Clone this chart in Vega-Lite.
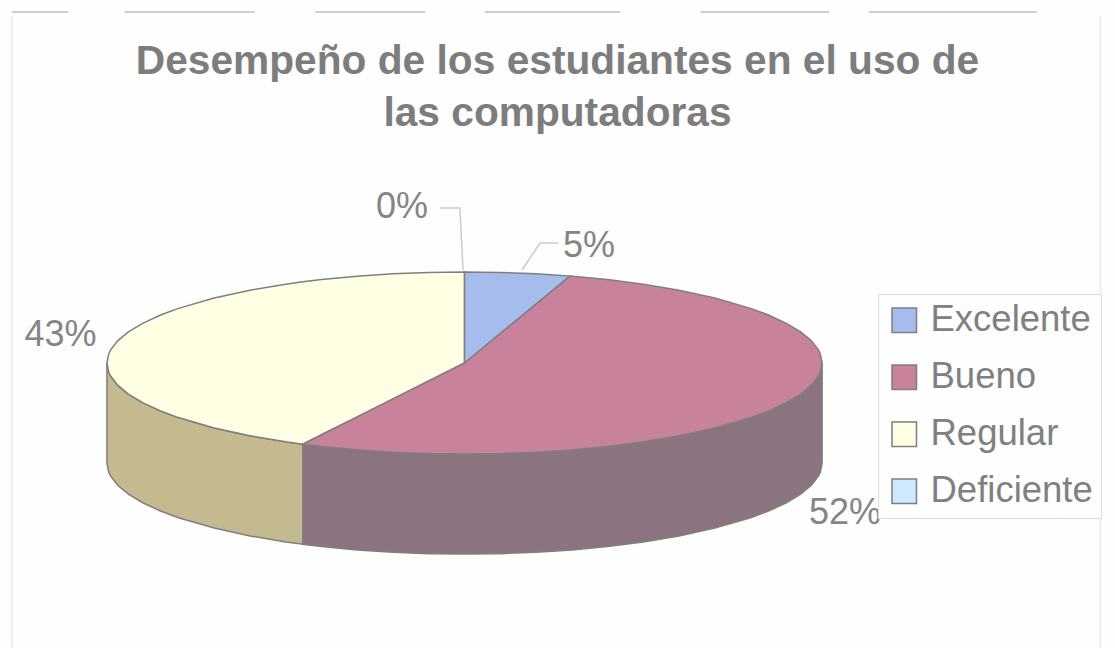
{
  "$schema": "https://vega.github.io/schema/vega-lite/v6.json",
  "autosize": {"type": "none"},
  "padding": 0,
  "width": 1115,
  "height": 648,
  "background": "#fefefe",
  "title": {
    "text": ["Desempeño de los estudiantes en el uso de", "las computadoras"],
    "frame": "group",
    "anchor": "middle",
    "orient": "top",
    "baseline": "top",
    "offset": 0,
    "dy": 135,
    "font": "Liberation Sans",
    "fontSize": 40.7,
    "fontWeight": "bold",
    "color": "#7d7d7d",
    "lineHeight": 52
  },
  "datasets": {
    "caras": [
      {"categoria": "Regular", "cara": "superior", "u": -100, "v1": 0, "v2": 0},
      {"categoria": "Regular", "cara": "superior", "u": -99.5, "v1": 10, "v2": -10},
      {"categoria": "Regular", "cara": "superior", "u": -99, "v1": 14.1, "v2": -14.1},
      {"categoria": "Regular", "cara": "superior", "u": -97, "v1": 24.3, "v2": -24.3},
      {"categoria": "Regular", "cara": "superior", "u": -94, "v1": 34.1, "v2": -34.1},
      {"categoria": "Regular", "cara": "superior", "u": -90, "v1": 43.6, "v2": -43.6},
      {"categoria": "Regular", "cara": "superior", "u": -85, "v1": 52.7, "v2": -52.7},
      {"categoria": "Regular", "cara": "superior", "u": -80, "v1": 60, "v2": -60},
      {"categoria": "Regular", "cara": "superior", "u": -70, "v1": 71.4, "v2": -71.4},
      {"categoria": "Regular", "cara": "superior", "u": -60, "v1": 80, "v2": -80},
      {"categoria": "Regular", "cara": "superior", "u": -50, "v1": 86.6, "v2": -86.6},
      {"categoria": "Regular", "cara": "superior", "u": -45.2, "v1": 89.2, "v2": -89.2},
      {"categoria": "Regular", "cara": "superior", "u": -40, "v1": 91.7, "v2": -78.9},
      {"categoria": "Regular", "cara": "superior", "u": -30, "v1": 95.4, "v2": -59.2},
      {"categoria": "Regular", "cara": "superior", "u": -20, "v1": 98, "v2": -39.5},
      {"categoria": "Regular", "cara": "superior", "u": -10, "v1": 99.5, "v2": -19.7},
      {"categoria": "Regular", "cara": "superior", "u": 0, "v1": 100, "v2": 0},

      {"categoria": "Excelente", "cara": "superior", "u": 0, "v1": 100, "v2": 0},
      {"categoria": "Excelente", "cara": "superior", "u": 10, "v1": 99.5, "v2": 32.4},
      {"categoria": "Excelente", "cara": "superior", "u": 20, "v1": 98, "v2": 64.7},
      {"categoria": "Excelente", "cara": "superior", "u": 29.5, "v1": 95.5, "v2": 95.5},

      {"categoria": "Bueno", "cara": "superior", "u": -45.2, "v1": -89.2, "v2": -89.2},
      {"categoria": "Bueno", "cara": "superior", "u": -40, "v1": -78.9, "v2": -91.7},
      {"categoria": "Bueno", "cara": "superior", "u": -30, "v1": -59.2, "v2": -95.4},
      {"categoria": "Bueno", "cara": "superior", "u": -20, "v1": -39.5, "v2": -98},
      {"categoria": "Bueno", "cara": "superior", "u": -10, "v1": -19.7, "v2": -99.5},
      {"categoria": "Bueno", "cara": "superior", "u": 0, "v1": 0, "v2": -100},
      {"categoria": "Bueno", "cara": "superior", "u": 10, "v1": 32.4, "v2": -99.5},
      {"categoria": "Bueno", "cara": "superior", "u": 20, "v1": 64.7, "v2": -98},
      {"categoria": "Bueno", "cara": "superior", "u": 29.5, "v1": 95.5, "v2": -95.5},
      {"categoria": "Bueno", "cara": "superior", "u": 40, "v1": 91.7, "v2": -91.7},
      {"categoria": "Bueno", "cara": "superior", "u": 50, "v1": 86.6, "v2": -86.6},
      {"categoria": "Bueno", "cara": "superior", "u": 60, "v1": 80, "v2": -80},
      {"categoria": "Bueno", "cara": "superior", "u": 70, "v1": 71.4, "v2": -71.4},
      {"categoria": "Bueno", "cara": "superior", "u": 80, "v1": 60, "v2": -60},
      {"categoria": "Bueno", "cara": "superior", "u": 85, "v1": 52.7, "v2": -52.7},
      {"categoria": "Bueno", "cara": "superior", "u": 90, "v1": 43.6, "v2": -43.6},
      {"categoria": "Bueno", "cara": "superior", "u": 94, "v1": 34.1, "v2": -34.1},
      {"categoria": "Bueno", "cara": "superior", "u": 97, "v1": 24.3, "v2": -24.3},
      {"categoria": "Bueno", "cara": "superior", "u": 99, "v1": 14.1, "v2": -14.1},
      {"categoria": "Bueno", "cara": "superior", "u": 99.5, "v1": 10, "v2": -10},
      {"categoria": "Bueno", "cara": "superior", "u": 100, "v1": 0, "v2": 0},

      {"categoria": "Regular", "cara": "lateral", "u": -100, "v1": 0, "v2": -110},
      {"categoria": "Regular", "cara": "lateral", "u": -99.5, "v1": -10, "v2": -120},
      {"categoria": "Regular", "cara": "lateral", "u": -99, "v1": -14.1, "v2": -124.1},
      {"categoria": "Regular", "cara": "lateral", "u": -97, "v1": -24.3, "v2": -134.3},
      {"categoria": "Regular", "cara": "lateral", "u": -94, "v1": -34.1, "v2": -144.1},
      {"categoria": "Regular", "cara": "lateral", "u": -90, "v1": -43.6, "v2": -153.6},
      {"categoria": "Regular", "cara": "lateral", "u": -85, "v1": -52.7, "v2": -162.7},
      {"categoria": "Regular", "cara": "lateral", "u": -80, "v1": -60, "v2": -170},
      {"categoria": "Regular", "cara": "lateral", "u": -70, "v1": -71.4, "v2": -181.4},
      {"categoria": "Regular", "cara": "lateral", "u": -60, "v1": -80, "v2": -190},
      {"categoria": "Regular", "cara": "lateral", "u": -50, "v1": -86.6, "v2": -196.6},
      {"categoria": "Regular", "cara": "lateral", "u": -45.2, "v1": -89.2, "v2": -199.2},

      {"categoria": "Bueno", "cara": "lateral", "u": -45.2, "v1": -89.2, "v2": -199.2},
      {"categoria": "Bueno", "cara": "lateral", "u": -40, "v1": -91.7, "v2": -201.7},
      {"categoria": "Bueno", "cara": "lateral", "u": -30, "v1": -95.4, "v2": -205.4},
      {"categoria": "Bueno", "cara": "lateral", "u": -20, "v1": -98, "v2": -208},
      {"categoria": "Bueno", "cara": "lateral", "u": -10, "v1": -99.5, "v2": -209.5},
      {"categoria": "Bueno", "cara": "lateral", "u": 0, "v1": -100, "v2": -210},
      {"categoria": "Bueno", "cara": "lateral", "u": 10, "v1": -99.5, "v2": -209.5},
      {"categoria": "Bueno", "cara": "lateral", "u": 20, "v1": -98, "v2": -208},
      {"categoria": "Bueno", "cara": "lateral", "u": 30, "v1": -95.4, "v2": -205.4},
      {"categoria": "Bueno", "cara": "lateral", "u": 40, "v1": -91.7, "v2": -201.7},
      {"categoria": "Bueno", "cara": "lateral", "u": 50, "v1": -86.6, "v2": -196.6},
      {"categoria": "Bueno", "cara": "lateral", "u": 60, "v1": -80, "v2": -190},
      {"categoria": "Bueno", "cara": "lateral", "u": 70, "v1": -71.4, "v2": -181.4},
      {"categoria": "Bueno", "cara": "lateral", "u": 80, "v1": -60, "v2": -170},
      {"categoria": "Bueno", "cara": "lateral", "u": 85, "v1": -52.7, "v2": -162.7},
      {"categoria": "Bueno", "cara": "lateral", "u": 90, "v1": -43.6, "v2": -153.6},
      {"categoria": "Bueno", "cara": "lateral", "u": 94, "v1": -34.1, "v2": -144.1},
      {"categoria": "Bueno", "cara": "lateral", "u": 97, "v1": -24.3, "v2": -134.3},
      {"categoria": "Bueno", "cara": "lateral", "u": 99, "v1": -14.1, "v2": -124.1},
      {"categoria": "Bueno", "cara": "lateral", "u": 99.5, "v1": -10, "v2": -120},
      {"categoria": "Bueno", "cara": "lateral", "u": 100, "v1": 0, "v2": -110}
    ],
    "porcentajes": [
      {"categoria": "Excelente", "valor": 0.05, "u": 34.8, "v": 128.6},
      {"categoria": "Bueno", "valor": 0.52, "u": 106.4, "v": -165},
      {"categoria": "Regular", "valor": 0.43, "u": -113, "v": 30.8},
      {"categoria": "Deficiente", "valor": 0, "u": -17.5, "v": 171.4}
    ],
    "guias": [
      {"guia": "Deficiente", "u": -6.9, "v": 170.3},
      {"guia": "Deficiente", "u": -1.3, "v": 170.3},
      {"guia": "Deficiente", "u": -0.4, "v": 102},
      {"guia": "Excelente", "u": 16.1, "v": 102.2},
      {"guia": "Excelente", "u": 21.1, "v": 131.9},
      {"guia": "Excelente", "u": 26.2, "v": 131.9}
    ],
    "marco": [
      {"a": -126.6, "b": -110.9, "c": 385.7, "d": 385.7, "tono": "fuerte"},
      {"a": -95, "b": -58.6, "c": 385.7, "d": 385.7, "tono": "fuerte"},
      {"a": -41.8, "b": -11, "c": 385.7, "d": 385.7, "tono": "fuerte"},
      {"a": 5.7, "b": 43.5, "c": 385.7, "d": 385.7, "tono": "fuerte"},
      {"a": 66, "b": 102, "c": 385.7, "d": 385.7, "tono": "fuerte"},
      {"a": 113, "b": 160, "c": 385.7, "d": 385.7, "tono": "fuerte"},
      {"a": -126.6, "b": -126.6, "c": 382, "d": -313, "tono": "suave"},
      {"a": 177.8, "b": 177.8, "c": 382, "d": -313, "tono": "suave"}
    ]
  },
  "layer": [
    {
      "data": {"name": "marco"},
      "mark": {"type": "rule", "strokeWidth": 2},
      "encoding": {
        "x": {"field": "a", "type": "quantitative", "scale": {"domain": [-129.9, 181.9], "nice": false, "zero": false}, "axis": null},
        "x2": {"field": "b"},
        "y": {"field": "c", "type": "quantitative", "scale": {"domain": [-313.2, 398.9], "nice": false, "zero": false}, "axis": null},
        "y2": {"field": "d"},
        "color": {"field": "tono", "type": "nominal", "scale": {"domain": ["fuerte", "suave"], "range": ["#cfcfcf", "#ececec"]}, "legend": null}
      }
    },
    {
      "data": {"name": "guias"},
      "mark": {"type": "line", "strokeWidth": 1.5, "color": "#cccccc"},
      "encoding": {
        "x": {"field": "u", "type": "quantitative", "axis": null},
        "y": {"field": "v", "type": "quantitative", "axis": null},
        "detail": {"field": "guia"}
      }
    },
    {
      "data": {"name": "caras"},
      "transform": [{"filter": "datum.cara === 'lateral'"}],
      "mark": {"type": "area", "stroke": "#7f7f7f", "strokeWidth": 1.5},
      "encoding": {
        "x": {"field": "u", "type": "quantitative", "axis": null},
        "y": {"field": "v1", "type": "quantitative", "axis": null},
        "y2": {"field": "v2"},
        "color": {"field": "categoria", "type": "nominal", "scale": {"domain": ["Bueno", "Regular"], "range": ["#8b747f", "#c4b98f"]}, "legend": null}
      }
    },
    {
      "data": {"name": "caras"},
      "transform": [{"filter": "datum.cara === 'superior'"}],
      "mark": {"type": "area", "stroke": "#7f7f7f", "strokeWidth": 1.5},
      "encoding": {
        "x": {"field": "u", "type": "quantitative", "axis": null},
        "y": {"field": "v1", "type": "quantitative", "axis": null},
        "y2": {"field": "v2"},
        "color": {
          "field": "categoria",
          "type": "nominal",
          "scale": {
            "domain": ["Excelente", "Bueno", "Regular", "Deficiente"],
            "range": ["#a6bcec", "#c9829c", "#ffffe3", "#cdeaff"]
          },
          "legend": {
            "title": null,
            "orient": "none",
            "legendX": 878,
            "legendY": 294,
            "padding": 8,
            "strokeColor": "#dcdcdc",
            "fillColor": "#fefefe",
            "symbolType": "square",
            "symbolSize": 600,
            "symbolStrokeColor": "#7f7f7f",
            "symbolStrokeWidth": 1.5,
            "labelFont": "Liberation Sans",
            "labelFontSize": 36.5,
            "labelColor": "#808080",
            "labelOffset": 8,
            "labelLimit": 220,
            "rowPadding": 20
          }
        }
      }
    },
    {
      "data": {"name": "porcentajes"},
      "mark": {"type": "text", "font": "Liberation Sans", "fontSize": 36, "color": "#858585", "align": "center", "baseline": "middle"},
      "encoding": {
        "x": {"field": "u", "type": "quantitative", "axis": null},
        "y": {"field": "v", "type": "quantitative", "axis": null},
        "text": {"field": "valor", "type": "quantitative", "format": ".0%"}
      }
    }
  ],
  "resolve": {"scale": {"color": "independent"}},
  "config": {"view": {"stroke": null}}
}
